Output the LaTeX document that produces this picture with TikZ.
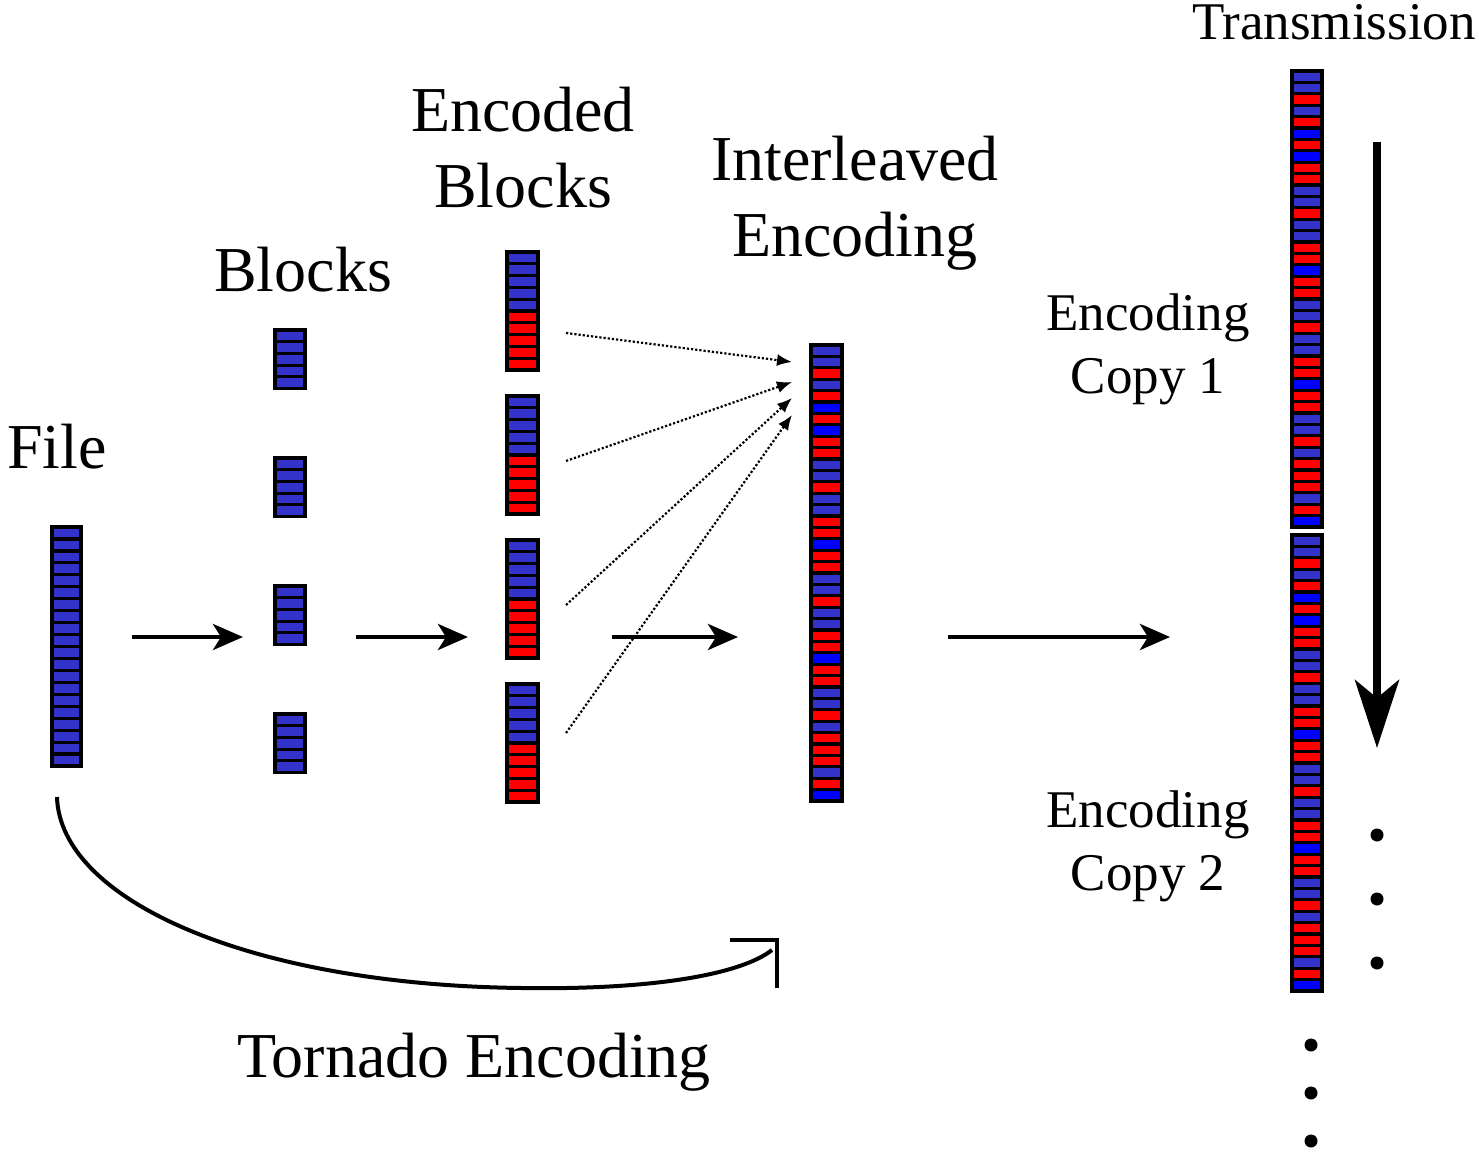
\documentclass[tikz,border=0pt]{standalone}
\usepackage{fontspec}
\setmainfont{Liberation Serif}
\usetikzlibrary{arrows.meta}
\definecolor{cb}{RGB}{51,51,204}
\definecolor{cr}{RGB}{255,0,0}
\definecolor{cl}{RGB}{0,0,255}
\tikzset{
  cell/.style={draw=black, line width=3.2pt},
  big/.style={font=\fontsize{64}{76}\selectfont, align=center},
  small/.style={font=\fontsize{53}{63}\selectfont, align=center},
  flow/.style={line width=4.5pt, -{Stealth[length=30pt,width=26pt,inset=8pt]}},
  pointer/.style={line width=2.2pt, dotted, -{Latex[length=15pt,width=12pt]}},
}
% column of cells: x, top, width, pitch, colour list
\newcommand{\cellcol}[5]{%
  \foreach \c [count=\i from 0] in #5
    \draw[cell, fill=\c] (#1,#2+\i*#4) rectangle ++(#3,#4);
}
\def\filelist{cb,cb,cb,cb,cb,cb,cb,cb,cb,cb,cb,cb,cb,cb,cb,cb,cb,cb,cb,cb}
\def\blocklist{cb,cb,cb,cb,cb}
\def\enclist{cb,cb,cb,cb,cb,cr,cr,cr,cr,cr}
\def\mixlist{cb,cb,cr,cb,cr,cl,cr,cl,cr,cr,
  cb,cb,cr,cb,cb,cr,cr,cl,cr,cr,
  cb,cb,cr,cb,cb,cr,cr,cl,cr,cr,
  cb,cb,cr,cb,cr,cr,cr,cb,cr,cl}
\begin{document}
\begin{tikzpicture}[x=1pt, y=-1pt]
\useasboundingbox (0,0) rectangle (1479,1155);
%labels
\node[big, anchor=base] (file) at (57,468) {File};
\node[big, anchor=base] (blocks) at (303,292) {Blocks};
\node[big, anchor=base] (encoded) at (523,208) {Encoded\\Blocks};
\node[big, anchor=base] (interleaved) at (855,257) {Interleaved\\Encoding};
\node[big, anchor=base] (tornado) at (474,1077) {Tornado Encoding};
\node[small, anchor=base] (transmission) at (1334,40) {Transmission};
\node[small, anchor=base] (copy1) at (1148,393) {Encoding\\Copy 1};
\node[small, anchor=base] (copy2) at (1148,890) {Encoding\\Copy 2};
%columns
\cellcol{52}{527}{29}{11.95}{\filelist}
\foreach \t in {330,458,586,714}
  \cellcol{275}{\t}{30}{11.7}{\blocklist}
\foreach \t in {252,396,540,684}
  \cellcol{507}{\t}{31}{11.8}{\enclist}
\cellcol{811}{345}{31}{11.4}{\mixlist}
\cellcol{1292}{71}{30}{11.4}{\mixlist}
\cellcol{1292}{535}{30}{11.4}{\mixlist}
%arrows
\coordinate (a1) at (132,637);
\coordinate (b1) at (243,637);
\coordinate (a2) at (356,637);
\coordinate (b2) at (468,637);
\coordinate (a3) at (612,637);
\coordinate (b3) at (738,637);
\coordinate (a4) at (948,637);
\coordinate (b4) at (1170,637);
\draw[flow] (a1) -- (b1);
\draw[flow] (a2) -- (b2);
\draw[flow] (a3) -- (b3);
\draw[flow] (a4) -- (b4);
\coordinate (sendtop) at (1377,142);
\coordinate (sendbot) at (1377,748);
\draw[line width=8pt, -{Stealth[length=68pt,width=44pt,inset=18pt]}] (sendtop) -- (sendbot);
%interleaving
\foreach \ys/\ye [count=\k] in {333/362,461/382,605/398,733/415}{
  \coordinate (p\k) at (566,\ys);
  \coordinate (q\k) at (792,\ye);
  \draw[pointer] (p\k) -- (q\k);
}
%tornado curve
\coordinate (cstart) at (57,797);
\coordinate (cmid) at (522,988);
\coordinate (cend) at (772,950);
\draw[line width=4pt] (cstart) .. controls (60,900) and (250,985) .. (cmid)
  .. controls (650,990) and (740,975) .. (cend);
\draw[line width=4.5pt] (730,940) -- (777,940) -- (777,988);
%dots
\foreach \y in {835,899,963}
  \fill (1377,\y) circle (6.5);
\foreach \y in {1045,1093,1141}
  \fill (1311,\y) circle (6.5);
\end{tikzpicture}
\end{document}
